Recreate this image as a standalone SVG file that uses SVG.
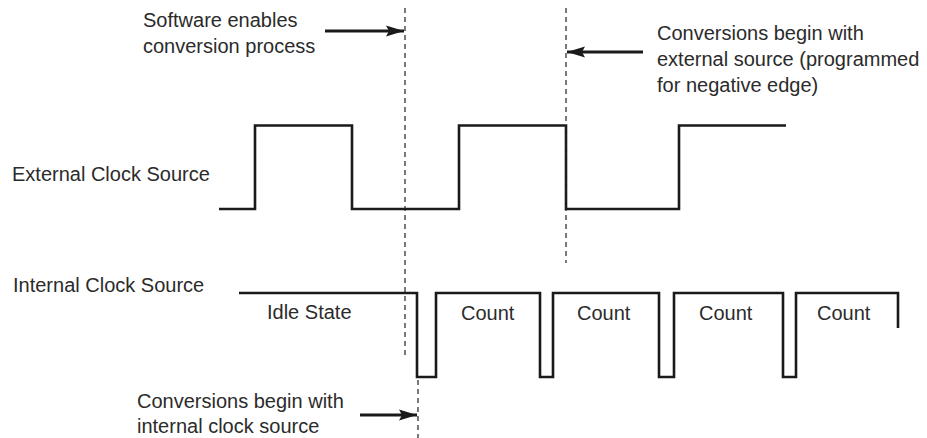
<svg xmlns="http://www.w3.org/2000/svg" width="927" height="438" viewBox="0 0 927 438">
  <style>
    .lbl { font-family: "Liberation Sans", Arial, sans-serif; font-size: 20px; fill: #2b2b2b; }
    .wave { fill: none; stroke: #1a1a1a; stroke-width: 2.6; stroke-linejoin: miter; }
    .guide { fill: none; stroke: #222; stroke-width: 1.2; stroke-dasharray: 5 4; }
    .pointer { fill: none; stroke: #1a1a1a; stroke-width: 2.8; }
  </style>
  <defs>
    <marker id="head" viewBox="0 0 18 12" refX="18" refY="6" markerWidth="18" markerHeight="12" markerUnits="userSpaceOnUse" orient="auto">
      <path d="M0,0.5 L18,6 L0,11.5 L3,6 z" fill="#1a1a1a"/>
    </marker>
  </defs>
  <rect width="927" height="438" fill="#ffffff"/>

  <!-- external clock waveform -->
  <g id="external-clock">
    <text class="lbl" x="12" y="181">External Clock Source</text>
    <path class="wave" d="M219,209 H255 V125.5 H352 V209 H459 V125.5 H566 V209 H679 V125.5 H786"/>
  </g>

  <!-- internal clock waveform -->
  <g id="internal-clock">
    <text class="lbl" x="13" y="292">Internal Clock Source</text>
    <path class="wave" d="M239,293 H417 V377 H436 V293 H540 V377 H553 V293 H659 V377 H674 V293 H783 V377 H796 V293 H898 V328"/>
    <text class="lbl" x="267" y="319">Idle State</text>
    <text class="lbl" x="461" y="320">Count</text>
    <text class="lbl" x="577" y="320">Count</text>
    <text class="lbl" x="699" y="320">Count</text>
    <text class="lbl" x="817" y="320">Count</text>
  </g>

  <!-- annotations -->
  <g id="note-software">
    <text class="lbl" x="143" y="27">Software enables</text>
    <text class="lbl" x="143" y="53">conversion process</text>
  </g>
  <g id="note-external">
    <text class="lbl" x="657" y="40">Conversions begin with</text>
    <text class="lbl" x="657" y="66">external source (programmed</text>
    <text class="lbl" x="657" y="92">for negative edge)</text>
  </g>
  <g id="note-internal">
    <text class="lbl" x="137" y="408">Conversions begin with</text>
    <text class="lbl" x="137" y="433">internal clock source</text>
  </g>

  <!-- timing guides and pointers -->
  <g id="connectors">
    <line class="guide" x1="405" y1="8" x2="405" y2="358"/>
    <line class="guide" x1="566" y1="8" x2="566" y2="263"/>
    <line class="guide" x1="418" y1="380" x2="418" y2="438"/>
    <line class="pointer" x1="325" y1="31" x2="404" y2="31" marker-end="url(#head)"/>
    <line class="pointer" x1="643" y1="52" x2="567" y2="52" marker-end="url(#head)"/>
    <line class="pointer" x1="360" y1="415" x2="417" y2="415" marker-end="url(#head)"/>
  </g>
</svg>
